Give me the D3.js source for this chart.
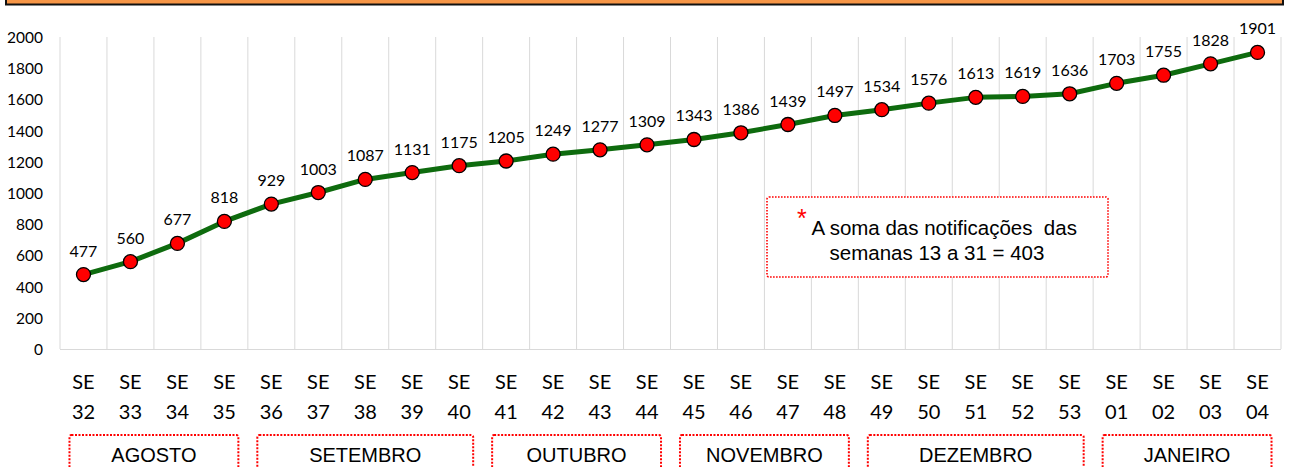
<!DOCTYPE html>
<html>
<head>
<meta charset="utf-8">
<script src="https://cdn.jsdelivr.net/npm/d3@7"></script>
<style>
  body { margin: 0; background: #fff; }
</style>
</head>
<body>
<div id="chart"></div>
<script>
const weeks = ['32', '33', '34', '35', '36', '37', '38', '39', '40', '41', '42', '43', '44', '45',
  '46', '47', '48', '49', '50', '51', '52', '53', '01', '02', '03', '04']
const cases = [477, 560, 677, 818, 929, 1003, 1087, 1131, 1175, 1205, 1249, 1277, 1309, 1343,
  1386, 1439, 1497, 1534, 1576, 1613, 1619, 1636, 1703, 1755, 1828, 1901]
const yTicks = [0, 200, 400, 600, 800, 1000, 1200, 1400, 1600, 1800, 2000]
const months = ['AGOSTO', 'SETEMBRO', 'OUTUBRO', 'NOVEMBRO', 'DEZEMBRO', 'JANEIRO']
const monthStart = ['32', '36', '41', '45', '49', '01']
const monthEnd = ['35', '40', '44', '48', '53', '04']
const noteLines = ['A soma das notificações  das', 'semanas 13 a 31 = 403']

const WIDTH = 1289
const HEIGHT = 467
const PLOT = { LEFT: 60, RIGHT: 1281, TOP: 37, BOTTOM: 349 }
const CAL = 'Lato, "Open Sans", sans-serif'
const ARIAL = '"Liberation Sans", Arial, sans-serif'

const svg = d3.select('#chart').append('svg')
  .attr('width', WIDTH)
  .attr('height', HEIGHT)

// orange header bar cut off at the top
svg.append('rect')
  .attr('x', 6).attr('y', -10)
  .attr('width', 1277).attr('height', 14.5)
  .attr('fill', '#F79646')
  .attr('stroke', '#111').attr('stroke-width', 2)

const x = d3.scaleBand().domain(weeks).range([PLOT.LEFT, PLOT.RIGHT])
const y = d3.scaleLinear().domain([0, 2000]).range([PLOT.BOTTOM, PLOT.TOP])
const cx = w => x(w) + x.bandwidth() / 2

const g = svg.append('g')

// vertical gridlines at category boundaries
const bounds = weeks.map(w => x(w)).concat([x(weeks[weeks.length - 1]) + x.bandwidth()])
g.selectAll('line.grid')
  .data(bounds)
  .join('line')
  .attr('class', 'grid')
  .attr('x1', d => d).attr('x2', d => d)
  .attr('y1', y(2000)).attr('y2', y(0))
  .attr('stroke', '#d9d9d9').attr('stroke-width', 1)

// bottom axis line
g.append('line')
  .attr('x1', PLOT.LEFT).attr('x2', PLOT.RIGHT)
  .attr('y1', y(0) + 0.5).attr('y2', y(0) + 0.5)
  .attr('stroke', '#d9d9d9')

// y tick labels
g.selectAll('text.ytick')
  .data(yTicks)
  .join('text')
  .attr('class', 'ytick')
  .attr('x', 43)
  .attr('y', d => y(d) + 6)
  .attr('text-anchor', 'end')
  .style('font-family', CAL)
  .style('font-size', '15.5px')
  .style('fill', '#000')
  .text(d => d)

// x labels, two lines
const xl = g.selectAll('text.xtick')
  .data(weeks)
  .join('text')
  .attr('class', 'xtick')
  .attr('text-anchor', 'middle')
  .style('font-family', CAL)
  .style('font-size', '20px')
  .style('fill', '#000')
xl.append('tspan').attr('x', d => cx(d)).attr('y', 389).text('SE')
xl.append('tspan').attr('x', d => cx(d)).attr('y', 419).text(d => d)

// line
const line = d3.line()
  .x((d, i) => cx(weeks[i]))
  .y(d => y(d))
g.append('path')
  .attr('d', line(cases))
  .attr('fill', 'none')
  .attr('stroke', '#0E6B0E')
  .attr('stroke-width', 5)
  .attr('stroke-linejoin', 'round')

// markers
g.selectAll('circle.pt')
  .data(cases)
  .join('circle')
  .attr('class', 'pt')
  .attr('cx', (d, i) => cx(weeks[i]))
  .attr('cy', d => y(d))
  .attr('r', 7)
  .attr('fill', '#FF0000')
  .attr('stroke', '#000')
  .attr('stroke-width', 1.3)

// value labels
g.selectAll('text.val')
  .data(cases)
  .join('text')
  .attr('class', 'val')
  .attr('x', (d, i) => cx(weeks[i]))
  .attr('y', d => y(d) - 18)
  .attr('text-anchor', 'middle')
  .style('font-family', CAL)
  .style('font-size', '16px')
  .style('fill', '#000')
  .text(d => d)

// month boxes
months.forEach((m, i) => {
  const x0 = cx(monthStart[i]) - 14
  const x1 = cx(monthEnd[i]) + 14
  g.append('rect')
    .attr('x', x0).attr('y', 435)
    .attr('width', x1 - x0).attr('height', 60)
    .attr('rx', 2)
    .attr('fill', 'none')
    .attr('stroke', '#FF0000')
    .attr('stroke-width', 2)
    .attr('stroke-dasharray', '2,1.5')
  g.append('text')
    .attr('x', (x0 + x1) / 2)
    .attr('y', 462)
    .attr('text-anchor', 'middle')
    .style('font-family', ARIAL)
    .style('font-size', '20px')
    .style('fill', '#000')
    .text(m)
})

// note box
const note = g.append('g')
note.append('rect')
  .attr('x', 767).attr('y', 197)
  .attr('width', 341).attr('height', 80)
  .attr('rx', 2)
  .attr('fill', '#fff')
  .attr('stroke', '#FF0000')
  .attr('stroke-width', 1.6)
  .attr('stroke-dasharray', '1.6,1.4')
const nt = note.selectAll('text.note')
  .data(noteLines)
  .join('text')
  .attr('class', 'note')
  .attr('x', 937)
  .attr('y', (d, i) => 235 + i * 25)
  .attr('text-anchor', 'middle')
  .style('font-family', ARIAL)
  .style('font-size', '20.5px')
  .style('white-space', 'pre')
  .style('fill', '#000')
nt.filter((d, i) => i === 0).append('tspan')
  .attr('dy', -8)
  .style('fill', '#FF0000')
  .style('font-size', '25px')
  .text('*')
nt.append('tspan')
  .attr('dy', (d, i) => (i === 0 ? 8 : 0))
  .text((d, i) => (i === 0 ? ' ' + d : d))
</script>
</body>
</html>
